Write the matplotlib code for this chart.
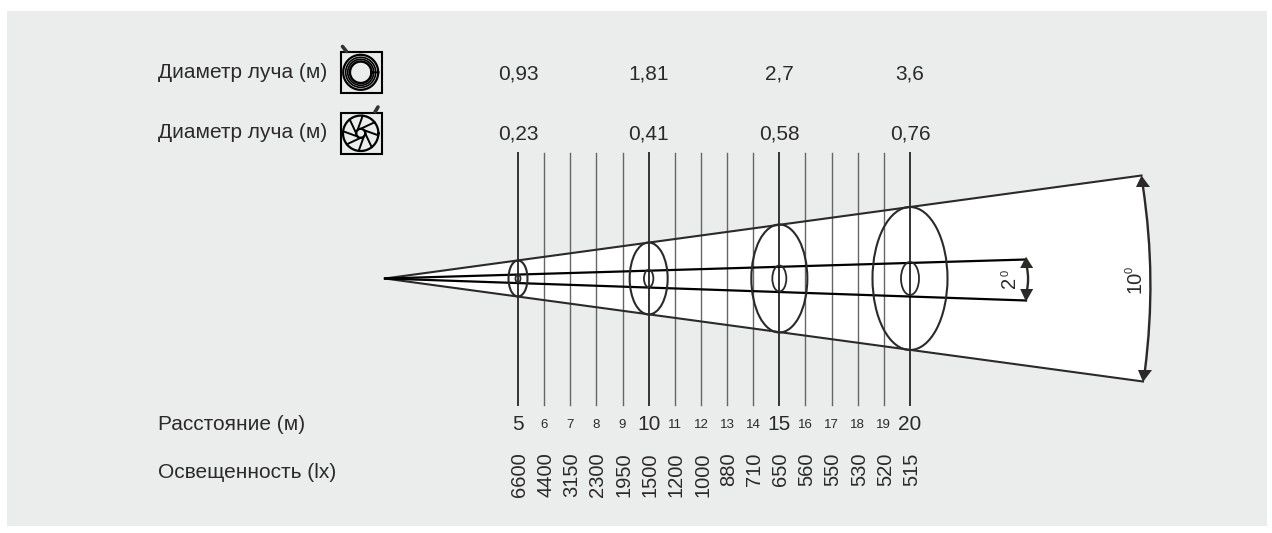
import numpy as np
import matplotlib
matplotlib.use('Agg')
import matplotlib.pyplot as plt
from matplotlib.patches import Rectangle, Ellipse, Polygon, FancyArrowPatch

plt.rcParams['font.family'] = ['Liberation Sans', 'DejaVu Sans']

# данные
distances = list(range(5, 21))
illuminance = [6600, 4400, 3150, 2300, 1950, 1500, 1200, 1000, 880, 710, 650, 560, 550, 530, 520, 515]
beam_dist = [5, 10, 15, 20]
beam_wide = ['0,93', '1,81', '2,7', '3,6']
beam_narrow = ['0,23', '0,41', '0,58', '0,76']
wide_half = [18, 36, 54, 71.5]      # полувысота эллипса на рисунке
wide_hw = [9.5, 19, 28, 37.5]
narrow_half = [4, 8.7, 13, 16.5]
narrow_hw = [2.5, 4.7, 7, 9]

INK = '#2b2a29'
BG = '#ebeded'
MID = 278.5
PX = (910 - 518) / 15  # пикселей на метр
X0 = 518 - 5 * PX

fig = plt.figure(figsize=(12.72, 5.33), dpi=100)
ax = fig.add_axes([0, 0, 1, 1])
# ось x в метрах, ось y в пикселях
ax.set_xlim(-X0 / PX, (1272 - X0) / PX)
ax.set_ylim(533, 0)
ax.axis('off')


def d(px):
    return (px - X0) / PX


ax.add_patch(Rectangle((d(7), 11), 1260 / PX, 515, fc=BG, ec='none', zorder=0))

# конус 10 градусов
apex = d(385)
ax.add_patch(Polygon([(apex, MID), (d(1141.5), 175.5), (d(1151), MID), (d(1143), 381.5)],
                     fc='white', ec='none', zorder=1))
ax.plot([apex, d(1141.5)], [MID, 175.5], color=INK, lw=1.5, zorder=3)
ax.plot([apex, d(1143)], [MID, 381.5], color=INK, lw=1.5, zorder=3)
# конус 2 градуса
ax.plot([apex, d(1026)], [MID, 259.5], color='black', lw=1.6, zorder=3)
ax.plot([apex, d(1026)], [MID, 300.5], color='black', lw=1.6, zorder=3)

# вертикальные линии
for dist in distances:
    major = dist in beam_dist
    ax.plot([dist, dist], [153, 405], color='#333333' if major else '#666666',
            lw=1.4 if major else 1.0, zorder=2)
    ax.text(dist, 425, str(dist), fontsize=15 if major else 9.5, color=INK,
            ha='center', va='center')

for val, dist in zip(illuminance, distances):
    ax.text(dist + 0.06, 452.5, str(val), fontsize=14.5, color=INK, rotation=90,
            ha='center', va='top')

# эллипсы
for i, dist in enumerate(beam_dist):
    ax.add_patch(Ellipse((dist, MID), 2 * wide_hw[i] / PX, 2 * wide_half[i], fc='none', ec=INK,
                         lw=1.5, zorder=4))
    ax.add_patch(Ellipse((dist, MID), 2 * narrow_hw[i] / PX, 2 * narrow_half[i], fc='none', ec=INK,
                         lw=1.3, zorder=4))
    ax.text(dist, 74.5, beam_wide[i], fontsize=15, color=INK, ha='center', va='center')
    ax.text(dist, 133.5, beam_narrow[i], fontsize=15, color=INK, ha='center', va='center')

# стрелки-дуги: линия и отдельные наконечники
for a, b, rad in [((1143, 187), (1145, 370), -0.07), ((1027, 268), (1027, 290), -0.1)]:
    ax.add_patch(FancyArrowPatch((d(a[0]), a[1]), (d(b[0]), b[1]), arrowstyle='-',
                                 connectionstyle=f'arc3,rad={rad}',
                                 shrinkA=0, shrinkB=0, color=INK, lw=1.7, zorder=5))
for tip, base, hw in [((1141.5, 175.5), (1143, 187), 7), ((1143, 382), (1145, 370), 7),
                      ((1026, 256.7), (1026.7, 268), 6.5), ((1026, 301.7), (1026.7, 289), 6.5)]:
    ax.add_patch(Polygon([(d(tip[0]), tip[1]), (d(base[0] - hw), base[1]), (d(base[0] + hw), base[1])],
                         fc=INK, ec='none', zorder=6))
ax.text(d(1134.5), 282, '10', fontsize=14.5, color=INK, rotation=90, ha='center', va='center')
ax.text(d(1130), 269.5, '0', fontsize=8, color=INK, rotation=90, ha='center', va='center')
ax.text(d(1009.5), 282, '2', fontsize=14.5, color=INK, rotation=90, ha='center', va='center')
ax.text(d(1005.5), 273, '0', fontsize=8, color=INK, rotation=90, ha='center', va='center')

# подписи слева
for y, txt in [(73, 'Диаметр луча (м)'), (132, 'Диаметр луча (м)'),
               (425, 'Расстояние (м)'), (472, 'Освещенность (lx)')]:
    ax.text(d(158), y, txt, fontsize=15, color=INK, ha='left', va='center')


# значки
def icon_frame(top, x1, y1, x2, y2):
    ax.add_patch(Rectangle((d(341), top), 41 / PX, 41, fc='none', ec='black', lw=1.5, zorder=4))
    ax.plot([d(x1), d(x2)], [y1, y2], color='#333333', lw=2.6, solid_capstyle='round', zorder=4)


def round_pts(cx, cy, r):
    t = np.linspace(0, 2 * np.pi, 80)
    return d(cx) + r * np.cos(t) / PX, cy + r * np.sin(t)


icon_frame(52, 342.5, 46.5, 346.5, 51.5)
for r, w in [(17.5, 1.6), (15, 1.2), (13, 1.2), (10.8, 1.8)]:
    x_c, y_c = round_pts(360.7, 72.3, r)
    ax.plot(x_c, y_c, color='black', lw=w, zorder=4)

icon_frame(113, 378, 107, 375, 112)
for r in (17.7, 4.5):
    x_c, y_c = round_pts(360.7, 133.3, r)
    ax.plot(x_c, y_c, color='black', lw=1.6, zorder=4)
for k in range(8):
    t = k * np.pi / 4
    x1, y1 = 360.7 + 4.5 * np.cos(t), 133.3 + 4.5 * np.sin(t)
    x2, y2 = 360.7 + 17.7 * np.cos(t + 0.9), 133.3 + 17.7 * np.sin(t + 0.9)
    ax.plot([d(x1), d(x2)], [y1, y2], color='black', lw=1.4, zorder=4)

fig.savefig('out.png', dpi=100, facecolor='white')
